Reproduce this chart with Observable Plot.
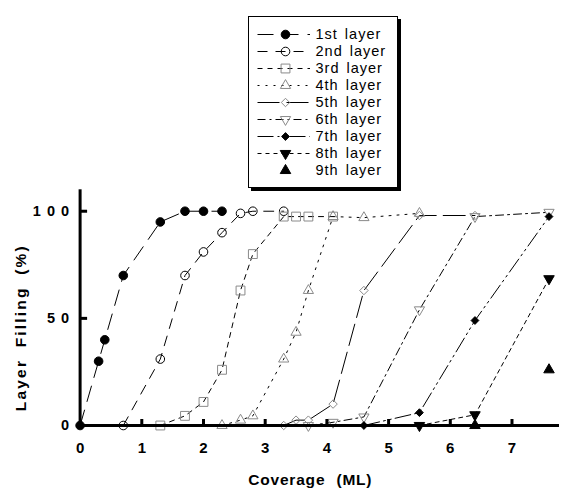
<!DOCTYPE html>
<html><head><meta charset="utf-8">
<script src="https://cdn.jsdelivr.net/npm/d3@7"></script>
<script src="https://cdn.jsdelivr.net/npm/@observablehq/plot@0.6"></script>
<style>
html,body{margin:0;padding:0;background:#fff;}
#wrap{position:relative;width:571px;height:489px;overflow:hidden;font-family:"Liberation Sans",Arial,Helvetica,sans-serif;}
#chart{position:absolute;left:0;top:0;}
#legend{position:absolute;left:248px;top:16px;width:150px;height:172px;border:1.5px solid #000;box-shadow:3px 3px 0 #000;background:#fff;box-sizing:border-box;}
#legend svg,#chart svg{display:block;}
</style></head><body>
<div id="wrap"><div id="chart"></div><div id="legend"></div></div>
<script>
// ---- data (coverage in ML, layer filling in %) ----
const layerNames = ["1st layer","2nd layer","3rd layer","4th layer","5th layer","6th layer","7th layer","8th layer","9th layer"];
const layer1 = [[0,0],[0.3,30],[0.4,40],[0.7,70],[1.3,95],[1.7,100],[2.0,100],[2.3,100]];
const layer2 = [[0.7,0],[1.3,31],[1.7,70],[2.0,81],[2.3,90],[2.6,99],[2.8,100],[3.3,100]];
const layer3 = [[1.3,0],[1.7,4.5],[2.0,11],[2.3,26],[2.6,63],[2.8,80],[3.3,97.5],[3.5,97.5],[3.7,97.5],[4.1,97.5]];
const layer4 = [[2.3,0],[2.6,2.5],[2.8,4.5],[3.3,31],[3.5,43.5],[3.7,63],[4.1,97.5],[4.6,97],[5.5,99]];
const layer5 = [[3.3,0],[3.5,2.5],[3.7,2.5],[4.1,10],[4.6,63],[5.5,98],[6.4,98]];
const layer6 = [[3.7,0],[4.1,1.5],[4.6,4],[5.5,54],[6.4,97.5],[7.6,99.5]];
const layer7 = [[4.6,0],[5.5,6],[6.4,49],[7.6,97.5]];
const layer8 = [[5.5,0],[6.4,5],[7.6,68.5]];
const layer9 = [[6.4,0],[7.6,26]];
const xTickLabels = [0,1,2,3,4,5,6,7];
const xTickMarks = [1,2,3,4,5,6,7];
const yTickLabels = [0,50,100];
const yTickMarks = [50,100];

// ---- styles ----
const GRAY = "#8a8a8a";
const styles = [
  {symbol:"circle",   fill:"black", stroke:"black", r:4.3, dash:"16,9"},
  {symbol:"circle",   fill:"none",  stroke:"black", r:4.3, dash:"10,8"},
  {symbol:"square",   fill:"none",  stroke:GRAY,   r:5.0, dash:"5,5"},
  {symbol:"triangle", fill:"none",  stroke:GRAY,   r:3.8, dash:"2,6"},
  {symbol:"diamond2", fill:"none",  stroke:GRAY,   r:3.8, dash:"22,7"},
  {symbol:"triangle", fill:"none",  stroke:GRAY,   r:3.8, dash:"8,4,2,4", rotate:180},
  {symbol:"diamond2", fill:"black", stroke:"black", r:3.5, dash:"16,4,2,4,2,4"},
  {symbol:"triangle", fill:"black", stroke:"black", r:3.9, dash:"4,4", rotate:180},
  {symbol:"triangle", fill:"black", stroke:"black", r:3.9, dash:null}
];
const layers = [layer1,layer2,layer3,layer4,layer5,layer6,layer7,layer8,layer9]
  .map((pts,i)=>({name:layerNames[i], pts, ...styles[i]}));

const tickUp = {draw(ctx){ctx.moveTo(0,0);ctx.lineTo(0,-6.5);}};
const tickRight = {draw(ctx){ctx.moveTo(0,0);ctx.lineTo(7,0);}};
const FONT = "'Liberation Sans', Arial, Helvetica, sans-serif";

const marks = [];
for (const L of layers) {
  if (L.dash) marks.push(Plot.line(L.pts, {x:d=>d[0], y:d=>d[1], stroke:"black", strokeWidth:1, strokeDasharray:L.dash}));
}
for (const L of layers) {
  marks.push(Plot.dot(L.pts, {x:d=>d[0], y:d=>d[1], symbol:L.symbol, r:L.r, fill:L.fill, stroke:L.stroke, strokeWidth:1, rotate:L.rotate||0}));
}
marks.push(
  Plot.ruleX([0], {stroke:"black", strokeWidth:3}),
  Plot.ruleY([0], {stroke:"black", strokeWidth:3}),
  Plot.dot(xTickMarks, {x:d=>d, y:0, symbol:tickUp, stroke:"black", strokeWidth:3, fill:"none"}),
  Plot.dot(yTickMarks, {x:0, y:d=>d, symbol:tickRight, stroke:"black", strokeWidth:3, fill:"none"}),
  Plot.axisX({ticks:xTickLabels, tickSize:0, tickPadding:17, fontSize:15, fontWeight:"bold", label:null}),
  Plot.axisY({ticks:yTickLabels, tickSize:0, tickPadding:10, fontSize:14.5, fontWeight:"bold", label:null,
              tickFormat:d=>String(d).split("").join(" ")}),
  Plot.text(["Layer Filling (%)"], {frameAnchor:"left", textAnchor:"middle", lineAnchor:"middle", rotate:-90, dx:-58.6, dy:20, fontSize:15.5, fontWeight:"bold"}),
  Plot.text(["Coverage (ML)"], {frameAnchor:"bottom", textAnchor:"middle", lineAnchor:"middle", dx:-9.5, dy:55, fontSize:15.5, fontWeight:"bold"})
);

const chart = Plot.plot({
  width:571, height:489,
  marginLeft:79.6, marginRight:12, marginTop:189.3, marginBottom:64,
  x:{domain:[0,7.77]},
  y:{domain:[0,110]},
  style:{fontFamily:FONT, color:"black", background:"transparent", overflow:"visible"},
  marks
});
document.getElementById("chart").appendChild(chart);
d3.select(chart).selectAll('g[aria-label="y-axis tick label"] text').style("letter-spacing","1px");
d3.select(chart).selectAll("text").filter(function(){return this.textContent==="Layer Filling (%)";})
  .style("letter-spacing","2.2px").style("word-spacing","5px");
d3.select(chart).selectAll("text").filter(function(){return this.textContent==="Coverage (ML)";})
  .style("letter-spacing","0.8px").style("word-spacing","6px");

// ---- legend ----
const lmarks = [];
for (const L of layers) {
  if (L.dash) lmarks.push(Plot.ruleY([L.name], {y:d=>d, x1:8.5, x2:61, stroke:"black", strokeWidth:1, strokeDasharray:L.dash}));
  lmarks.push(Plot.dot([L.name], {x:36, y:d=>d, symbol:L.symbol, r:L.r, fill:L.fill, stroke:L.stroke, strokeWidth:1, rotate:L.rotate||0}));
}
lmarks.push(Plot.text(layerNames, {x:66, y:d=>d, textAnchor:"start", fontSize:14.5}));
const legend = Plot.plot({
  width:147, height:169, margin:0,
  x:{domain:[0,147], range:[0,147], axis:null},
  y:{type:"point", padding:0, domain:layerNames, range:[14.8,155.2], axis:null},
  style:{fontFamily:FONT, color:"black", background:"transparent"},
  marks:lmarks
});
document.getElementById("legend").appendChild(legend);
d3.select(legend).selectAll("text").style("letter-spacing","1px").style("word-spacing","2px");
</script>
</body></html>
